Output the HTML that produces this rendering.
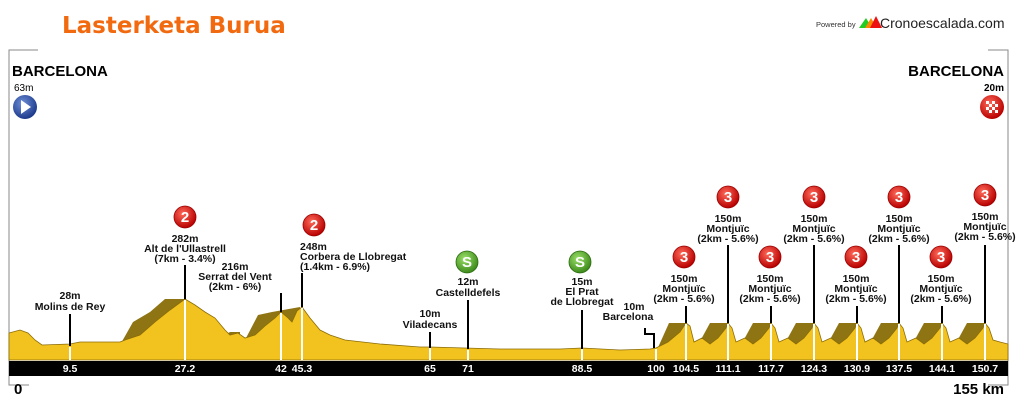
<!DOCTYPE html>
<html><head><meta charset="utf-8"><style>
body{margin:0;background:#fff;}
svg{display:block;font-family:"Liberation Sans",Arial,sans-serif;}
</style></head><body>
<svg width="1018" height="410" viewBox="0 0 1018 410" xmlns="http://www.w3.org/2000/svg">
<defs>
<radialGradient id="rg" cx="40%" cy="35%" r="65%"><stop offset="0" stop-color="#ff6a5a"/><stop offset="1" stop-color="#b80000"/></radialGradient>
<radialGradient id="gg" cx="40%" cy="35%" r="65%"><stop offset="0" stop-color="#9be06a"/><stop offset="1" stop-color="#3d8a1a"/></radialGradient>
<radialGradient id="bg" cx="40%" cy="35%" r="65%"><stop offset="0" stop-color="#6f8fd8"/><stop offset="1" stop-color="#1c3a8a"/></radialGradient>
<g id="c3"><circle r="11" fill="url(#rg)" stroke="#900" stroke-width="0.8"/><text y="5" text-anchor="middle" font-size="15" font-weight="bold" fill="#fff">3</text></g>
<g id="c2"><circle r="11" fill="url(#rg)" stroke="#900" stroke-width="0.8"/><text y="5" text-anchor="middle" font-size="15" font-weight="bold" fill="#fff">2</text></g>
<g id="cs"><circle r="11" fill="url(#gg)" stroke="#2a6a10" stroke-width="0.8"/><text y="5" text-anchor="middle" font-size="15" font-weight="bold" fill="#fff">S</text></g>
</defs>
<text x="62" y="33" font-size="23" font-weight="bold" fill="#f26a10" font-family="DejaVu Sans,sans-serif">Lasterketa Burua</text>
<text x="816" y="27" font-size="7.5" fill="#333">Powered by</text>
<polygon points="859,28 866,18 872,28" fill="#2c2"/><polygon points="865,28 871,18 877,28" fill="#f80"/><polygon points="870,28 876,16 882,28" fill="#e11"/>
<text x="880" y="28" font-size="14" fill="#222">Cronoescalada.com</text>
<path d="M38,50 H9 V385 H29" fill="none" stroke="#888" stroke-width="1"/>
<path d="M988,50 H1008 V385 H988" fill="none" stroke="#888" stroke-width="1"/>
<text x="12" y="76" font-size="15" font-weight="bold">BARCELONA</text>
<text x="14" y="91" font-size="10">63m</text>
<circle cx="25" cy="107" r="12" fill="url(#bg)"/><polygon points="21,100 21,114 31,107" fill="#fff"/>
<text x="1004" y="76" font-size="15" font-weight="bold" text-anchor="end">BARCELONA</text>
<text x="1004" y="91" font-size="10" font-weight="bold" text-anchor="end">20m</text>
<circle cx="992" cy="107" r="12" fill="url(#rg)"/>
<g fill="#fff"><rect x="986" y="101" width="3" height="3"/><rect x="992" y="101" width="3" height="3"/><rect x="989" y="104" width="3" height="3"/><rect x="995" y="104" width="3" height="3"/><rect x="986" y="107" width="3" height="3"/><rect x="992" y="107" width="3" height="3"/><rect x="989" y="110" width="3" height="3"/><rect x="995" y="110" width="3" height="3"/></g>
<g fill="#8f7414">
<polygon points="120,345 133,322 150,312 165,299 185,299 185,345"/>
<polygon points="245,340 258,315 272,312 300,307 300,345"/>
<polygon points="225,335 230,332 240,332 240,340"/>
<polygon points="656,352 669,323 686,323 686,352"/>
<polygon points="698,345 710,323 728,323 728,345"/>
<polygon points="741,345 753,323 771,323 771,345"/>
<polygon points="784,345 796,323 814,323 814,345"/>
<polygon points="827,345 839,323 857,323 857,345"/>
<polygon points="869,345 881,323 899,323 899,345"/>
<polygon points="912,345 924,323 942,323 942,345"/>
<polygon points="955,345 967,323 985,323 985,345"/>
</g>
<polygon fill="#f2c21e" stroke="#8a6c08" stroke-width="0.8" points="9,333 20,330 28,333 35,340 42,345 70,344 80,342 120,342 125,340 140,335 155,322 170,310 185,299 195,305 205,312 215,318 225,330 230,335 238,333 245,338 255,335 265,326 275,318 281,312 288,318 292,322 297,311 302,307 310,318 320,330 330,335 345,340 380,344 420,347 430,347 500,349 560,349 582,348 620,350 650,349 656,348 668,342 680,332 686,323 690,326 694,342 702,338 710,344 718,338 726,328 728,323 732,328 736,342 745,338 753,344 761,338 769,328 771,323 775,328 779,342 788,338 796,344 804,338 812,328 814,323 818,328 822,342 831,338 839,344 847,338 855,328 857,323 861,328 865,342 873,338 881,344 889,338 897,328 899,323 903,328 907,342 916,338 924,344 932,338 940,328 942,323 946,328 950,342 959,338 967,344 975,338 983,328 985,323 989,328 993,340 1000,342 1008,344 1008,360 9,360"/>
<g stroke="#fff" stroke-width="2">
<line x1="70" y1="347" x2="70" y2="360"/><line x1="185" y1="300" x2="185" y2="360"/><line x1="281" y1="313" x2="281" y2="360"/><line x1="302" y1="308" x2="302" y2="360"/>
<line x1="430" y1="348" x2="430" y2="360"/><line x1="468" y1="350" x2="468" y2="360"/><line x1="582" y1="349" x2="582" y2="360"/><line x1="656" y1="349" x2="656" y2="360"/>
<line x1="686" y1="324" x2="686" y2="360"/><line x1="728" y1="324" x2="728" y2="360"/><line x1="771" y1="324" x2="771" y2="360"/><line x1="814" y1="324" x2="814" y2="360"/><line x1="857" y1="324" x2="857" y2="360"/><line x1="899" y1="324" x2="899" y2="360"/><line x1="942" y1="324" x2="942" y2="360"/><line x1="985" y1="324" x2="985" y2="360"/>
</g>
<rect x="9" y="361" width="999" height="15" fill="#000"/>
<g fill="#fff" font-size="10.5" font-weight="bold" text-anchor="middle">
<text x="70" y="372">9.5</text><text x="185" y="372">27.2</text><text x="281" y="372">42</text><text x="302" y="372">45.3</text><text x="430" y="372">65</text><text x="468" y="372">71</text><text x="582" y="372">88.5</text><text x="656" y="372">100</text><text x="686" y="372">104.5</text><text x="728" y="372">111.1</text><text x="771" y="372">117.7</text><text x="814" y="372">124.3</text><text x="857" y="372">130.9</text><text x="899" y="372">137.5</text><text x="942" y="372">144.1</text><text x="985" y="372">150.7</text>
</g>
<text x="14" y="394" font-size="15" font-weight="bold">0</text>
<text x="1004" y="394" font-size="15" font-weight="bold" text-anchor="end">155 km</text>
<g stroke="#000" stroke-width="2">
<line x1="70" y1="314" x2="70" y2="346"/><line x1="185" y1="265" x2="185" y2="299"/><line x1="281" y1="293" x2="281" y2="312"/><line x1="302" y1="273" x2="302" y2="307"/>
<line x1="430" y1="332" x2="430" y2="348"/><line x1="468" y1="300" x2="468" y2="349"/><line x1="582" y1="310" x2="582" y2="349"/>
<line x1="686" y1="306" x2="686" y2="323"/><line x1="728" y1="245" x2="728" y2="323"/><line x1="771" y1="306" x2="771" y2="323"/><line x1="814" y1="245" x2="814" y2="323"/><line x1="857" y1="306" x2="857" y2="323"/><line x1="899" y1="245" x2="899" y2="323"/><line x1="942" y1="306" x2="942" y2="323"/><line x1="985" y1="245" x2="985" y2="323"/>
</g>
<polyline points="645,328 645,334 654,334 654,348" fill="none" stroke="#000" stroke-width="2"/>
<g font-size="10.5" font-weight="bold" text-anchor="middle" fill="#111">
<text x="70" y="299">28m</text><text x="70" y="310">Molins de Rey</text>
<use href="#c2" x="185" y="217"/>
<text x="185" y="242">282m</text><text x="185" y="252">Alt de l'Ullastrell</text><text x="185" y="262">(7km - 3.4%)</text>
<text x="235" y="270">216m</text><text x="235" y="280">Serrat del Vent</text><text x="235" y="290">(2km - 6%)</text>
<use href="#c2" x="314" y="225"/>
<text x="300" y="250" text-anchor="start">248m</text><text x="300" y="260" text-anchor="start">Corbera de Llobregat</text><text x="300" y="270" text-anchor="start">(1.4km - 6.9%)</text>
<text x="430" y="317">10m</text><text x="430" y="328">Viladecans</text>
<use href="#cs" x="467" y="262"/>
<text x="468" y="285">12m</text><text x="468" y="296">Castelldefels</text>
<use href="#cs" x="580" y="262"/>
<text x="582" y="285">15m</text><text x="582" y="295">El Prat</text><text x="582" y="305">de Llobregat</text>
<text x="634" y="310">10m</text><text x="628" y="320">Barcelona</text>
<use href="#c3" x="684" y="257"/><text x="684" y="282">150m</text><text x="684" y="292">Montjuïc</text><text x="684" y="302">(2km - 5.6%)</text>
<use href="#c3" x="728" y="197"/><text x="728" y="222">150m</text><text x="728" y="232">Montjuïc</text><text x="728" y="242">(2km - 5.6%)</text>
<use href="#c3" x="770" y="257"/><text x="770" y="282">150m</text><text x="770" y="292">Montjuïc</text><text x="770" y="302">(2km - 5.6%)</text>
<use href="#c3" x="814" y="197"/><text x="814" y="222">150m</text><text x="814" y="232">Montjuïc</text><text x="814" y="242">(2km - 5.6%)</text>
<use href="#c3" x="856" y="257"/><text x="856" y="282">150m</text><text x="856" y="292">Montjuïc</text><text x="856" y="302">(2km - 5.6%)</text>
<use href="#c3" x="899" y="197"/><text x="899" y="222">150m</text><text x="899" y="232">Montjuïc</text><text x="899" y="242">(2km - 5.6%)</text>
<use href="#c3" x="941" y="257"/><text x="941" y="282">150m</text><text x="941" y="292">Montjuïc</text><text x="941" y="302">(2km - 5.6%)</text>
<use href="#c3" x="985" y="195"/><text x="985" y="220">150m</text><text x="985" y="230">Montjuïc</text><text x="985" y="240">(2km - 5.6%)</text>
</g>
</svg>
</body></html>
